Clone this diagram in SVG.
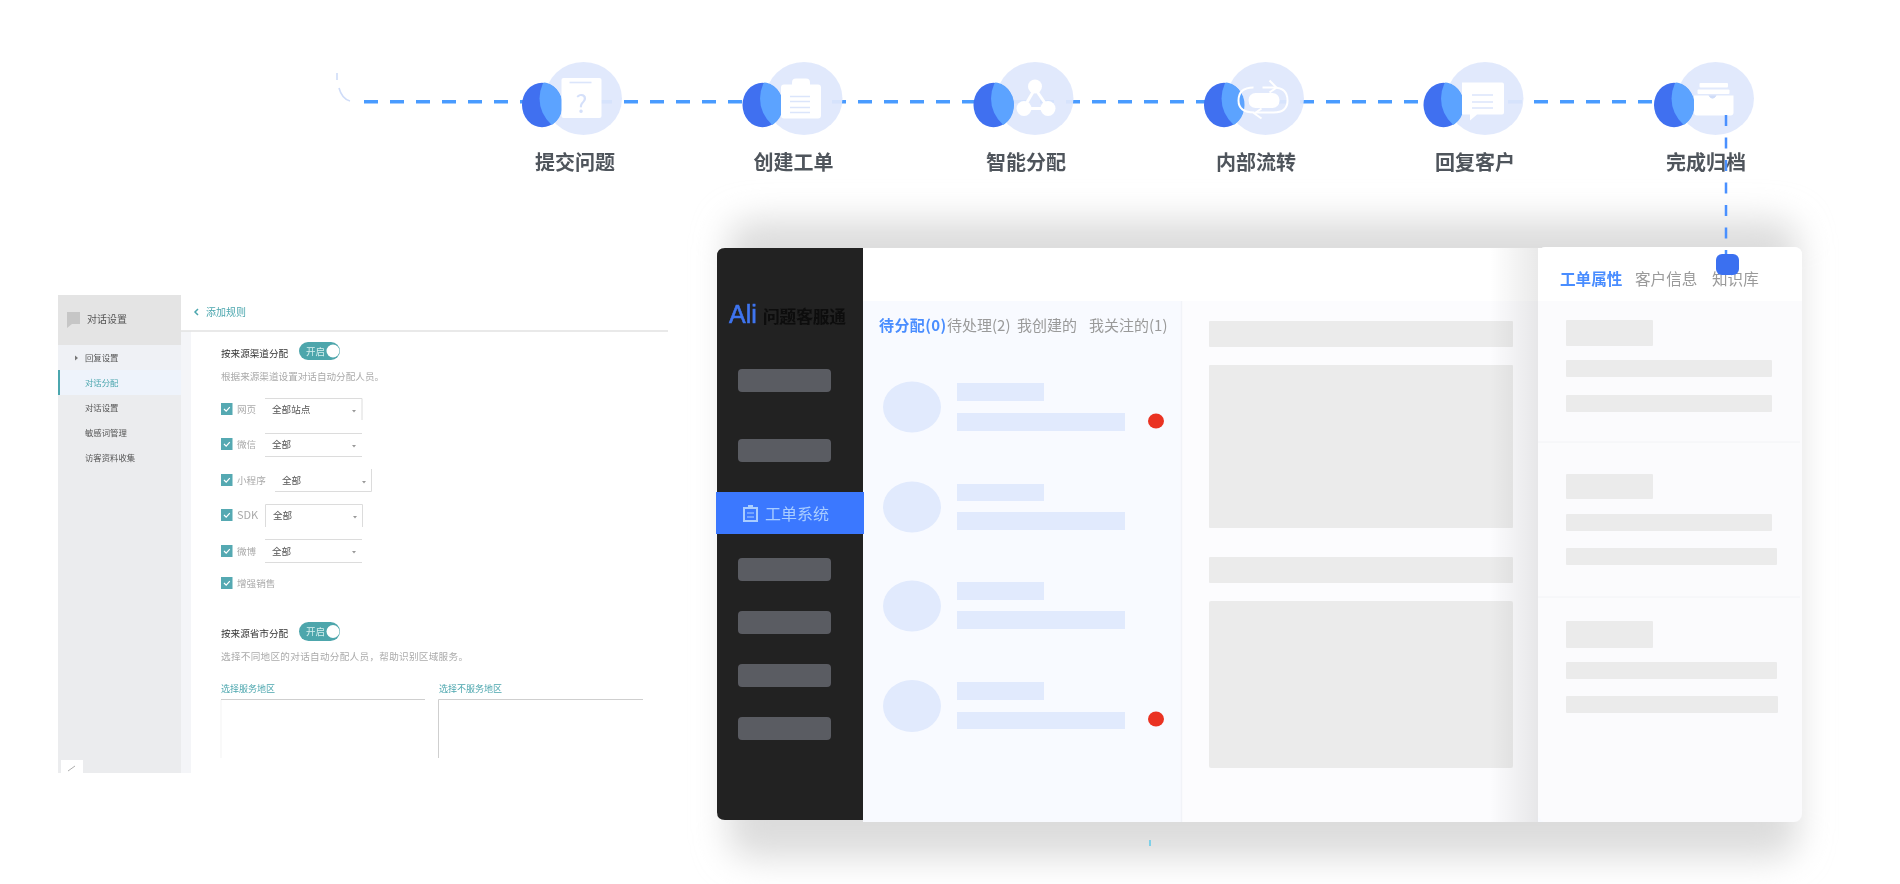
<svg xmlns="http://www.w3.org/2000/svg" xmlns:xlink="http://www.w3.org/1999/xlink" width="1900" height="884" viewBox="0 0 1900 884">
<style>
text{font-family:"Noto Sans CJK SC","Noto Sans",sans-serif}
.lbl{font-size:20px;fill:#50555c;text-anchor:middle;font-weight:700}
.flow{fill:none;stroke:#4a9bff;stroke-width:3.4;stroke-dasharray:14 12}
.ic{fill:#fff}
.pale{fill:none;stroke:#dbe5fb;stroke-width:1.6}
.g1{fill:#ebebeb}
.bl{fill:#e1eafd}
.nav{fill:#5a5b62}
.t8{font-size:8.4px;fill:#555}
.t95{font-size:9.6px;fill:#333}
.dim{font-size:9.6px;fill:#aaa}
.ck{fill:#55a9b2}
.ckm{fill:none;stroke:#fff;stroke-width:1.2}
.ln{fill:none;stroke:#dcdcdc;stroke-width:1}
.car{fill:#999}
.sel{font-size:9.6px;fill:#555}
.tab{font-size:15px;fill:#9a9a9a}
.tab2{font-size:15.6px;fill:#9a9a9a}
</style>
<defs>
<filter id="soft" filterUnits="userSpaceOnUse" x="0" y="0" width="1900" height="884"><feGaussianBlur stdDeviation="0.7"/></filter>
<filter id="soft2" filterUnits="userSpaceOnUse" x="0" y="0" width="1900" height="884"><feGaussianBlur stdDeviation="0.3"/></filter>
<filter id="sh" filterUnits="userSpaceOnUse" x="600" y="130" width="1300" height="754"><feGaussianBlur stdDeviation="17"/></filter>
<linearGradient id="pshade" x1="0" x2="1" y1="0" y2="0"><stop offset="0" stop-color="#000" stop-opacity="0"/><stop offset="1" stop-color="#000" stop-opacity="0.085"/></linearGradient>
<clipPath id="lens"><ellipse cx="-3" cy="0" rx="41" ry="37"/></clipPath>
<g id="base">
<ellipse cx="0" cy="0" rx="38.5" ry="36.5" fill="#dfe8fc" opacity="0.94"/>
<ellipse cx="-41.5" cy="6.5" rx="20" ry="22.3" fill="#3f70f0"/>
<ellipse cx="-41.5" cy="6.5" rx="20.5" ry="22.8" fill="#5ba3ff" clip-path="url(#lens)"/>
</g>
<path id="check" class="ckm" d="M3 6l2.2 2.2 3.6-4"/>
</defs>
<rect width="1900" height="884" fill="#fff"/>
<rect id="panel-shadow" x="728" y="220" width="1070" height="638" rx="24" fill="#dcdcdc" filter="url(#sh)"/>

<g filter="url(#soft)">
<g id="connectors-flow">
<path class="flow" d="M364 101.7H1672"/>
<path d="M337 73V80M339 88Q342 99 350 101" fill="none" stroke="#cfdcf8" stroke-width="1.6"/>
</g>

<g id="node-submit" transform="translate(583.5 98.5)">
<use xlink:href="#base"/>
<rect class="ic" x="-22" y="-20.5" width="40" height="40" rx="2"/>
<path class="pale" d="M-14-16H8"/>
<text x="-2" y="14" font-size="25" fill="#d5e0fa" text-anchor="middle">?</text>
<text class="lbl" x="-8.5" y="71.5">提交问题</text>
</g>
<g id="node-create" transform="translate(804 98.5)">
<use xlink:href="#base"/>
<rect class="ic" x="-23" y="-14" width="40" height="34" rx="3"/>
<rect class="ic" x="-12" y="-20" width="18" height="10" rx="4"/>
<path class="pale" d="M-14-2H6M-14 3H6M-14 9H6M-14 14H6"/>
<text class="lbl" x="-10.5" y="71.5">创建工单</text>
</g>
<g id="node-assign" transform="translate(1035 98.5)">
<use xlink:href="#base"/>
<circle class="ic" cx="0" cy="-12" r="7"/><circle class="ic" cx="-11" cy="10" r="7.5"/><circle class="ic" cx="13" cy="10" r="7.5"/>
<path d="M0-10L-11 9M0-10L13 9M-11 10H13" stroke="#fff" stroke-width="3" fill="none"/>
<text class="lbl" x="-9" y="71.5">智能分配</text>
</g>
<g id="node-transfer" transform="translate(1265.5 98.5)">
<use xlink:href="#base"/>
<rect class="ic" x="-17" y="-5.5" width="31" height="15" rx="7"/>
<path d="M-3-11H8Q22-11 22 2Q22 14 8 14H-10M-11 14Q-27 14-27 2Q-27-11-12-11" fill="none" stroke="#fff" stroke-width="2"/>
<path d="M4-18L11-11L4-6M-4 10L-11 15L-4 20" fill="none" stroke="#fff" stroke-width="2"/>
<text class="lbl" x="-9.5" y="71.5">内部流转</text>
</g>
<g id="node-reply" transform="translate(1485 98.5)">
<use xlink:href="#base"/>
<path class="ic" d="M-23-16H17Q19-16 19-14V14Q19 16 17 16H-8L-15 22V16H-23Z"/>
<path class="pale" d="M-13-3.5H8M-13 3.5H8M-13 9.5H8"/>
<text class="lbl" x="-10" y="71.5">回复客户</text>
</g>
<g id="node-archive" transform="translate(1715.5 98.5)">
<use xlink:href="#base"/>
<rect class="ic" x="-16" y="-15.5" width="28.5" height="4.5" rx="1"/>
<rect class="ic" x="-18" y="-9" width="32" height="4.5" rx="1"/>
<path class="ic" d="M-21.5-3H-7Q-3 3 1-3H18V14Q18 17 15 17H-18.5Q-21.5 17-21.5 14Z"/>
<path d="M-7-3Q-3 3 1-3" fill="#cfdcf8"/>
<text class="lbl" x="-9.5" y="71.5">完成归档</text>
</g>
</g>

<g id="main-panel" filter="url(#soft2)">
<rect x="863" y="248" width="690" height="53" fill="#fff"/>
<rect x="863" y="301" width="690" height="521" fill="#f8faff"/>
<rect x="1182" y="301" width="356" height="521" fill="#fcfcfe"/>
<path d="M1181.5 301V822" stroke="#f1f3f8" stroke-width="1.5"/>
<path d="M863 248H725Q717 248 717 256V812Q717 820 725 820H863Z" fill="#202020"/>
<g id="sidebar">
<text x="729" y="323" font-size="25" fill="#3f74ee" stroke="#3f74ee" stroke-width="0.6" style="font-family:'Liberation Sans',sans-serif">Ali</text>
<text x="763" y="323" font-size="16.6" fill="#0e0e0e" font-weight="700">问题客服通</text>
<rect class="nav" x="738" y="369" width="93" height="23" rx="4"/>
<rect class="nav" x="738" y="439" width="93" height="23" rx="4"/>
<rect x="716" y="492" width="148" height="42" fill="#3b78ff"/>
<path d="M744 508H757V521H744Z" fill="none" stroke="#a9cdff" stroke-width="2"/><rect x="748" y="505" width="5" height="4" fill="#a9cdff"/><path d="M747 513H754M747 517H754" stroke="#a9cdff" stroke-width="1.2"/>
<text x="765" y="519.5" font-size="16" fill="#a9cdff">工单系统</text>
<rect class="nav" x="738" y="558" width="93" height="23" rx="4"/>
<rect class="nav" x="738" y="611" width="93" height="23" rx="4"/>
<rect class="nav" x="738" y="664" width="93" height="23" rx="4"/>
<rect class="nav" x="738" y="717" width="93" height="23" rx="4"/>
</g>
<g id="list">
<text class="tab" x="879" y="331" font-weight="700" letter-spacing="0.4" style="fill:#4a8dff">待分配(0)</text>
<text class="tab" x="947" y="331">待处理(2)</text>
<text class="tab" x="1017" y="331">我创建的</text>
<text class="tab" x="1089" y="331">我关注的(1)</text>
<ellipse class="bl" cx="912" cy="407" rx="29" ry="25.5"/>
<rect class="bl" x="957" y="383" width="87" height="18"/><rect class="bl" x="957" y="413" width="168" height="18"/>
<ellipse class="bl" cx="912" cy="507" rx="29" ry="25.5"/>
<rect class="bl" x="957" y="484" width="87" height="17"/><rect class="bl" x="957" y="512" width="168" height="18"/>
<ellipse class="bl" cx="912" cy="606" rx="29" ry="25.5"/>
<rect class="bl" x="957" y="582" width="87" height="18"/><rect class="bl" x="957" y="611" width="168" height="18"/>
<ellipse class="bl" cx="912" cy="706" rx="29" ry="26"/>
<rect class="bl" x="957" y="682" width="87" height="18"/><rect class="bl" x="957" y="712" width="168" height="17"/>
<ellipse cx="1156" cy="421" rx="8" ry="7.5" fill="#ea3323"/>
<ellipse cx="1156" cy="719" rx="8" ry="7.5" fill="#ea3323"/>
</g>
<g id="detail">
<rect class="g1" x="1209" y="321" width="304" height="26" rx="1"/>
<rect class="g1" x="1209" y="365" width="304" height="163" rx="1"/>
<rect class="g1" x="1209" y="557" width="304" height="26" rx="1"/>
<rect class="g1" x="1209" y="601" width="304" height="167" rx="2"/>
</g>
<rect x="1490" y="248" width="48" height="574" fill="url(#pshade)"/>
<g id="right-panel">
<rect x="1538" y="247" width="264" height="575" rx="8" fill="#fbfbfd"/>
<path d="M1538 301V255Q1538 247 1546 247H1794Q1802 247 1802 255V301Z" fill="#fff"/>
<path d="M1538 442H1800M1538 597H1800" stroke="#f2f3f6" stroke-width="1"/>
<text class="tab2" x="1560" y="285" font-weight="700" style="fill:#4a8dff">工单属性</text>
<text class="tab2" x="1635" y="285">客户信息</text>
<text class="tab2" x="1712" y="285">知识库</text>
<rect class="g1" x="1566" y="320" width="87" height="26" rx="1"/>
<rect class="g1" x="1566" y="360" width="206" height="17" rx="1"/>
<rect class="g1" x="1566" y="395" width="206" height="17" rx="1"/>
<rect class="g1" x="1566" y="474" width="87" height="25" rx="1"/>
<rect class="g1" x="1566" y="514" width="206" height="17" rx="1"/>
<rect class="g1" x="1566" y="548" width="211" height="17" rx="1"/>
<rect class="g1" x="1566" y="621" width="87" height="27" rx="1"/>
<rect class="g1" x="1566" y="662" width="211" height="17" rx="1"/>
<rect class="g1" x="1566" y="696" width="212" height="17" rx="1"/>
</g>
<rect x="1149" y="840" width="2" height="6" fill="#7fd0e8"/>
</g>

<g id="connectors-down" filter="url(#soft)">
<path d="M1726 115V254" fill="none" stroke="#4a90ff" stroke-width="2.5" stroke-dasharray="11 11.5"/>
<rect x="1716" y="254" width="23" height="21" rx="6" fill="#3b6ff0"/>
</g>

<g id="settings-panel" filter="url(#soft2)">
<rect x="58" y="295" width="123" height="478" fill="#ebecee"/>
<rect x="58" y="295" width="123" height="50" fill="#e4e4e4"/>
<rect x="58" y="345" width="123" height="25" fill="#eff1f5"/>
<rect x="58" y="370" width="123" height="25" fill="#eef3fb"/>
<rect x="58" y="370" width="2" height="25" fill="#4ba6ae"/>
<rect x="181" y="331" width="10" height="442" fill="#f4f5f8"/>
<path d="M181 331H668" stroke="#e2e2e2" stroke-width="1.5"/>
<path d="M67 312H80V324H72L67 328Z" fill="#c6c6c6"/>
<text x="87" y="323" font-size="10" fill="#555">对话设置</text>
<path d="M75 355.500L78 358L75 360.500Z" fill="#777"/>
<text class="t8" x="85" y="361">回复设置</text>
<text class="t8" x="85" y="386" style="fill:#4ba6ae">对话分配</text>
<text class="t8" x="85" y="411">对话设置</text>
<text class="t8" x="85" y="436">敏感词管理</text>
<text class="t8" x="85" y="461">访客资料收集</text>
<path d="M198 309L195 312L198 315" fill="none" stroke="#4ba6ae" stroke-width="1.5"/>
<text x="206" y="316" font-size="10" fill="#4ba6ae">添加规则</text>
<text class="t95" x="221" y="356.500">按来源渠道分配</text>
<rect x="299" y="342" width="41" height="18" rx="9" fill="#4ea6ac"/>
<circle cx="333" cy="351" r="6.500" fill="#fff"/>
<text x="306" y="354.500" font-size="9.500" fill="#d6f0ef">开启</text>
<text class="dim" x="221" y="379.500">根据来源渠道设置对话自动分配人员。</text>

<rect class="ck" x="221" y="403" width="11.500" height="12"/><use xlink:href="#check" x="221" y="403"/>
<text class="dim" x="237" y="412.500">网页</text>
<path class="ln" d="M265 398.500H362V420"/>
<text class="sel" x="272" y="412.500">全部站点</text><path class="car" d="M352 410h4l-2 2.500z"/>

<rect class="ck" x="221" y="438" width="11.500" height="12"/><use xlink:href="#check" x="221" y="438"/>
<text class="dim" x="237" y="447.500">微信</text>
<path class="ln" d="M265 433.500H362M265 456.500H362"/>
<text class="sel" x="272" y="447.500">全部</text><path class="car" d="M352 445h4l-2 2.500z"/>

<rect class="ck" x="221" y="474" width="11.500" height="12"/><use xlink:href="#check" x="221" y="474"/>
<text class="dim" x="237" y="483.500">小程序</text>
<path class="ln" d="M275 491.500H371.500V469"/>
<text class="sel" x="282" y="484">全部</text><path class="car" d="M362 481h4l-2 2.500z"/>

<rect class="ck" x="221" y="509" width="11.500" height="12"/><use xlink:href="#check" x="221" y="509"/>
<text class="dim" x="237" y="519" style="font-size:11px">SDK</text>
<path class="ln" d="M265.500 527V504.500H362.500V527"/>
<text class="sel" x="273" y="519">全部</text><path class="car" d="M353 516h4l-2 2.500z"/>

<rect class="ck" x="221" y="545" width="11.500" height="12"/><use xlink:href="#check" x="221" y="545"/>
<text class="dim" x="237" y="554.500">微博</text>
<path class="ln" d="M265 539.500H362M265 562.500H362"/>
<text class="sel" x="272" y="554.500">全部</text><path class="car" d="M352 551h4l-2 2.500z"/>

<rect class="ck" x="221" y="577" width="11.500" height="12"/><use xlink:href="#check" x="221" y="577"/>
<text class="dim" x="237" y="586.500">增强销售</text>

<text class="t95" x="221" y="636.500">按来源省市分配</text>
<rect x="299" y="622" width="41" height="19" rx="9.500" fill="#4ea6ac"/>
<circle cx="333" cy="631.500" r="6.500" fill="#fff"/>
<text x="306" y="635" font-size="9.500" fill="#d6f0ef">开启</text>
<text class="dim" x="221" y="659.500" textLength="247">选择不同地区的对话自动分配人员，帮助识别区域服务。</text>
<text x="221" y="691.500" font-size="9" fill="#4ba6ae">选择服务地区</text>
<text x="439" y="691.500" font-size="9" fill="#4ba6ae">选择不服务地区</text>
<path class="ln" d="M221 699.500H425" style="stroke:#cfcfcf"/>
<path class="ln" d="M438.500 758V699.500H643" style="stroke:#cfcfcf"/>
<path d="M221 700V758" stroke="#f3f3f3"/>
<rect x="61" y="760" width="22" height="13" fill="#fff"/>
<path d="M68 771L75 766" stroke="#999" stroke-width="0.8"/>
</g>
</svg>
